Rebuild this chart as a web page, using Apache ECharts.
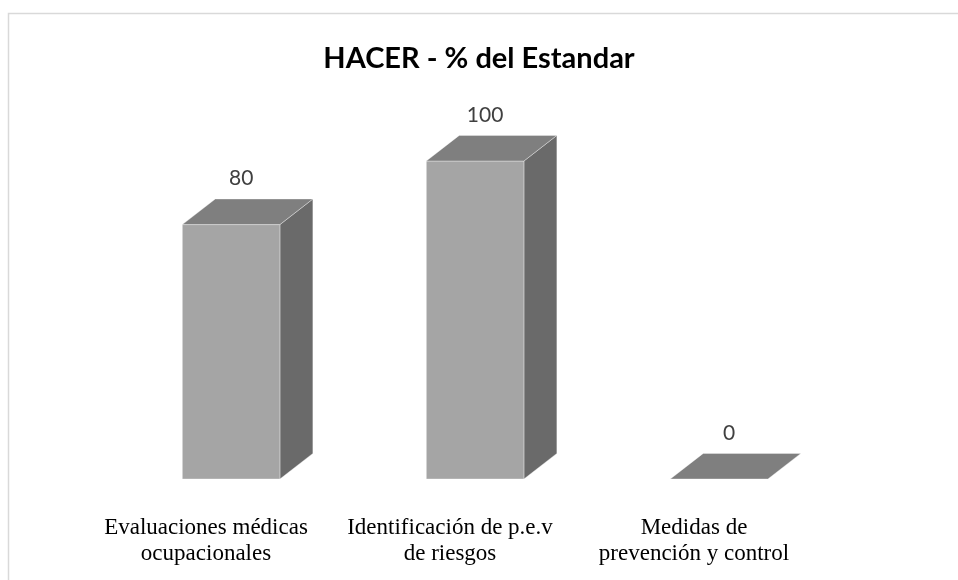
<!DOCTYPE html>
<html>
<head>
<meta charset="utf-8">
<script src="https://cdn.jsdelivr.net/npm/echarts@6/dist/echarts.min.js"></script>
<style>
  html, body { margin: 0; padding: 0; background: #ffffff; }
  #chart { width: 958px; height: 580px; }
</style>
</head>
<body>
<div id="chart"></div>
<script>
// Categories (wrapped as they appear under the bars) and their values
const categories = [
  'Evaluaciones médicas\nocupacionales',
  'Identificación de p.e.v\nde riesgos',
  'Medidas de\nprevención y control'
];
const values = [80, 100, 0];
const titleText = 'HACER - % del Estandar';

// Face colours of the 3D boxes
const FRONT = '#a5a5a5';
const TOP = '#7f7f7f';
const SIDE = '#6a6a6a';

const chart = echarts.init(document.getElementById('chart'), null, { renderer: 'canvas' });

// Draws one box: front face from the value scale, top and right side projected back
function renderBox(params, api) {
  const idx = api.value(0);
  const v = api.value(1);
  const topPt = api.coord([idx, v]);
  const basePt = api.coord([idx, 0]);
  const band = api.size([1, 0])[0];
  const w = band * 0.4;
  const dx = band * 0.135;
  const dy = band * 0.105;
  const shift = band * 0.103;
  const cx = topPt[0] + shift;
  const x0 = cx - w / 2;
  const x1 = x0 + w;
  const yT = topPt[1];
  const yB = basePt[1];
  const edge = 'rgba(255,255,255,0.35)';
  const children = [
    {
      type: 'polygon',
      shape: { points: [[x1, yT], [x1 + dx, yT - dy], [x1 + dx, yB - dy], [x1, yB]] },
      style: { fill: SIDE, stroke: edge, lineWidth: 1 }
    },
    {
      type: 'rect',
      shape: { x: x0, y: yT, width: w, height: yB - yT },
      style: { fill: FRONT, stroke: edge, lineWidth: 1 }
    },
    {
      type: 'polygon',
      shape: { points: [[x0, yT], [x1, yT], [x1 + dx, yT - dy], [x0 + dx, yT - dy]] },
      style: { fill: TOP, stroke: edge, lineWidth: 1 }
    },
    {
      type: 'text',
      style: {
        x: cx + 10,
        y: yT - 46,
        text: String(v),
        fill: '#404040',
        font: '21px Lato, "Open Sans", sans-serif',
        align: 'center',
        verticalAlign: 'middle'
      }
    }
  ];
  return { type: 'group', children: children };
}

const option = {
  backgroundColor: '#ffffff',
  animation: false,
  title: {
    text: titleText,
    left: 'center',
    top: 39,
    textStyle: {
      fontFamily: 'Lato, "Open Sans", sans-serif',
      fontWeight: 'bold',
      fontSize: 29,
      color: '#000000'
    }
  },
  graphic: [
    {
      type: 'rect',
      left: 6,
      top: 11,
      shape: { width: 980, height: 600 },
      style: { fill: 'none', stroke: '#d9d9d9', lineWidth: 1.5 },
      silent: true
    }
  ],
  grid: { left: 84, right: 142, top: 161, bottom: 101 },
  xAxis: {
    type: 'category',
    data: categories,
    axisLine: { show: false },
    axisTick: { show: false },
    splitLine: { show: false },
    axisLabel: {
      interval: 0,
      margin: 36,
      fontFamily: '"Liberation Serif", "Times New Roman", serif',
      fontSize: 23,
      lineHeight: 26,
      color: '#000000',
      align: 'center'
    }
  },
  yAxis: {
    type: 'value',
    min: 0,
    max: 100,
    interval: 20,
    show: false,
    splitLine: { show: false }
  },
  series: [
    {
      type: 'custom',
      renderItem: renderBox,
      data: values.map((v, i) => [i, v]),
      encode: { x: 0, y: 1 },
      clip: false
    }
  ]
};

chart.setOption(option);
</script>
</body>
</html>
